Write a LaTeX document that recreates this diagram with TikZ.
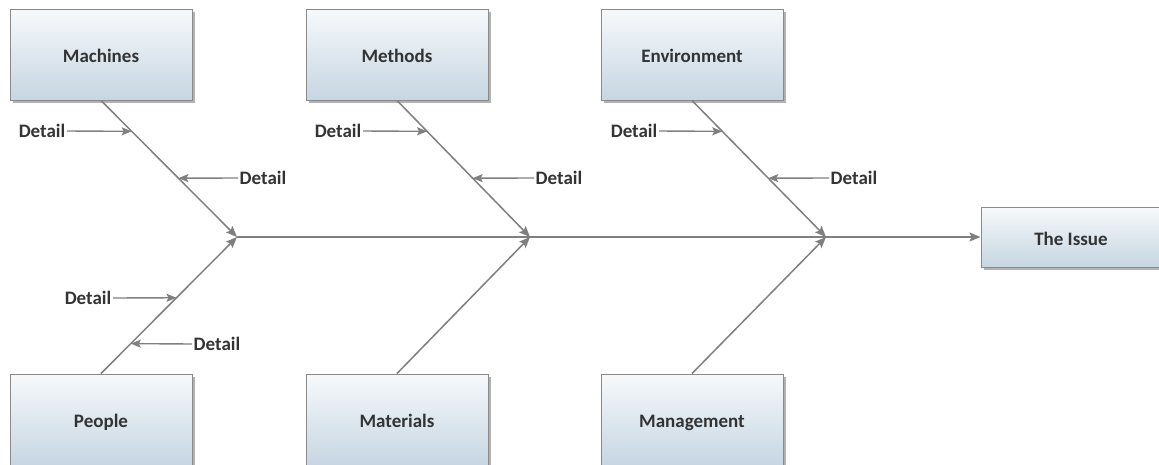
\documentclass[tikz,border=0pt]{standalone}
\usepackage{fontspec}
\setmainfont{Carlito}
\usetikzlibrary{arrows.meta,calc,shadows}
\definecolor{linegray}{HTML}{7F7F7F}
\definecolor{boxedge}{HTML}{8A8A8A}
\definecolor{boxtop}{HTML}{F7F9FB}
\definecolor{boxbot}{HTML}{C6D6E2}
\definecolor{txt}{HTML}{333333}
\tikzset{
  causebox/.style={draw=boxedge, line width=1pt, shading=axis, top color=boxtop, bottom color=boxbot,
    minimum width=182pt, minimum height=91pt, inner sep=0pt,
    font=\fontsize{19}{22}\selectfont\bfseries, text=txt, text height=16pt, text depth=0pt,
    drop shadow={shadow xshift=2.5pt, shadow yshift=-2.5pt, fill=black, opacity=0.3}},
  issuebox/.style={causebox, minimum width=180pt, minimum height=60pt},
  detail/.style={font=\fontsize{19}{22}\selectfont\bfseries, text=txt, inner sep=1.5pt},
  bone/.style={draw=linegray, line width=1.5pt, -{Stealth[length=11pt,width=9pt,inset=2pt]}},
  twig/.style={draw=linegray, line width=1.4pt, -{Stealth[length=10pt,width=8pt,inset=2pt]}}
}
\begin{document}
\begin{tikzpicture}[x=1pt,y=-1pt]
\useasboundingbox (0,0) rectangle (1159,464);
\begin{scope}
\clip (0,0) rectangle (1159,464);

% cause boxes
\node[causebox] (mach) at (101,54.5) {Machines};
\node[causebox] (meth) at (397,54.5) {Methods};
\node[causebox] (env)  at (692,54.5) {Environment};
\node[causebox] (peop) at (101,419.5) {People};
\node[causebox] (mat)  at (397,419.5) {Materials};
\node[causebox] (mgmt) at (692,419.5) {Management};

% effect box
\node[issuebox] (issue) at (1071,237) {The Issue};

% junctions on the spine
\coordinate (j1) at (237,237);
\coordinate (j2) at (530,237);
\coordinate (j3) at (826,237);

% spine
\draw[bone] (j1) -- (issue.west);

% main bones
\draw[bone] (mach.south) -- (j1);
\draw[bone] (meth.south) -- (j2);
\draw[bone] (env.south)  -- (j3);
\draw[bone] (peop.north) -- (j1);
\draw[bone] (mat.north)  -- (j2);
\draw[bone] (mgmt.north) -- (j3);

% detail labels
\node[detail, anchor=east] (d1) at (67,131)  {Detail};
\node[detail, anchor=west] (d2) at (238,178) {Detail};
\node[detail, anchor=east] (d3) at (363,131) {Detail};
\node[detail, anchor=west] (d4) at (534,178) {Detail};
\node[detail, anchor=east] (d5) at (659,131) {Detail};
\node[detail, anchor=west] (d6) at (829,178) {Detail};
\node[detail, anchor=east] (d7) at (113,298) {Detail};
\node[detail, anchor=west] (d8) at (192,344) {Detail};

% detail arrows onto the bones
\draw[twig] (d1.east) -- ($(mach.south)!0.226!(j1)$);
\draw[twig] (d2.west) -- ($(mach.south)!0.569!(j1)$);
\draw[twig] (d3.east) -- ($(meth.south)!0.226!(j2)$);
\draw[twig] (d4.west) -- ($(meth.south)!0.569!(j2)$);
\draw[twig] (d5.east) -- ($(env.south)!0.226!(j3)$);
\draw[twig] (d6.west) -- ($(env.south)!0.569!(j3)$);
\draw[twig] (d7.east) -- ($(peop.north)!0.555!(j1)$);
\draw[twig] (d8.west) -- ($(peop.north)!0.219!(j1)$);
\end{scope}
\end{tikzpicture}
\end{document}
